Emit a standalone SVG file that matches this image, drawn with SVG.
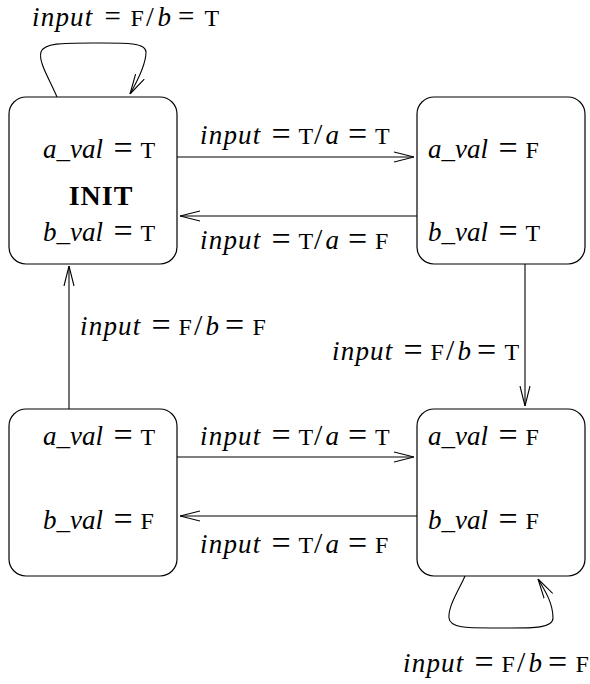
<svg xmlns="http://www.w3.org/2000/svg" width="590" height="684" viewBox="0 0 590 684">
  <style>
    .state { fill: #ffffff; stroke: #000000; stroke-width: 1.2; }
    .edge { fill: none; stroke: #000000; stroke-width: 1.1; }
    text { font-family: "Liberation Serif", "DejaVu Serif", serif; font-size: 24px; fill: #000000; }
    .v { font-style: italic; font-size: 27px; }
    .w { letter-spacing: 1.2px; }
    .eq { font-size: 34px; }
    .sl { font-size: 30px; }
    .eqs { font-size: 29px; }
    .sls { font-size: 28px; }
    .c { font-size: 24px; }
    .b { font-weight: bold; font-size: 28px; letter-spacing: 1px; }
  </style>
  <defs>
    <marker id="open" viewBox="0 0 20 12" refX="20" refY="6" markerWidth="20" markerHeight="12" markerUnits="userSpaceOnUse" orient="auto">
      <path d="M0,1 L20,6 L0,11" fill="none" stroke="#000000" stroke-width="1.1"/>
    </marker>
  </defs>

  <rect width="590" height="684" fill="#ffffff"/>

  <!-- transitions: lines, self-loops and their guards -->
  <g id="connectors">
    <path class="edge" d="M57,97 C50,80 38,62 41,52 C44,43 62,43 92,43 C122,43 146,42 146,52 C146,64 138,80 130,94" marker-end="url(#open)"/>
    <line class="edge" x1="177" y1="157" x2="414" y2="157" marker-end="url(#open)"/>
    <line class="edge" x1="417" y1="216" x2="180" y2="216" marker-end="url(#open)"/>
    <line class="edge" x1="525" y1="264" x2="525" y2="406" marker-end="url(#open)"/>
    <line class="edge" x1="69" y1="409" x2="69" y2="266" marker-end="url(#open)"/>
    <line class="edge" x1="177" y1="457" x2="414" y2="457" marker-end="url(#open)"/>
    <line class="edge" x1="417" y1="516" x2="180" y2="516" marker-end="url(#open)"/>
    <path class="edge" d="M465,576 C459,590 448,606 449,618 C450,629 470,628 500,628 C530,628 553,629 553,618 C553,604 546,592 538,579" marker-end="url(#open)"/>

    <text transform="translate(32,26)"><tspan class="v w" x="0" y="0">input</tspan><tspan class="eqs" x="72.5" y="0">=</tspan><tspan class="c" x="98.5" y="0">F</tspan><tspan class="sls" x="114">/</tspan><tspan class="v" x="125.5">b</tspan><tspan class="eqs" x="146" y="0">=</tspan><tspan class="c" x="172.5" y="0">T</tspan></text>
    <text transform="translate(200,144)"><tspan class="v w" x="0" y="0">input</tspan><tspan class="eq" x="71.5" y="1">=</tspan><tspan class="c" x="98.5" y="0">T</tspan><tspan class="sl" x="114">/</tspan><tspan class="v" x="125.5">a</tspan><tspan class="eq" x="148" y="1">=</tspan><tspan class="c" x="175" y="0">T</tspan></text>
    <text transform="translate(200,249)"><tspan class="v w" x="0" y="0">input</tspan><tspan class="eq" x="71.5" y="1">=</tspan><tspan class="c" x="98.5" y="0">T</tspan><tspan class="sl" x="114">/</tspan><tspan class="v" x="125.5">a</tspan><tspan class="eq" x="148" y="1">=</tspan><tspan class="c" x="175" y="0">F</tspan></text>
    <text transform="translate(332,360)"><tspan class="v w" x="0" y="0">input</tspan><tspan class="eq" x="71.5" y="1">=</tspan><tspan class="c" x="98.5" y="0">F</tspan><tspan class="sl" x="114">/</tspan><tspan class="v" x="125.5">b</tspan><tspan class="eq" x="145" y="1">=</tspan><tspan class="c" x="172.5" y="0">T</tspan></text>
    <text transform="translate(80,335)"><tspan class="v w" x="0" y="0">input</tspan><tspan class="eq" x="71.5" y="1">=</tspan><tspan class="c" x="98.5" y="0">F</tspan><tspan class="sl" x="114">/</tspan><tspan class="v" x="125.5">b</tspan><tspan class="eq" x="145" y="1">=</tspan><tspan class="c" x="172.5" y="0">F</tspan></text>
    <text transform="translate(200,445)"><tspan class="v w" x="0" y="0">input</tspan><tspan class="eq" x="71.5" y="1">=</tspan><tspan class="c" x="98.5" y="0">T</tspan><tspan class="sl" x="114">/</tspan><tspan class="v" x="125.5">a</tspan><tspan class="eq" x="148" y="1">=</tspan><tspan class="c" x="175" y="0">T</tspan></text>
    <text transform="translate(200,553)"><tspan class="v w" x="0" y="0">input</tspan><tspan class="eq" x="71.5" y="1">=</tspan><tspan class="c" x="98.5" y="0">T</tspan><tspan class="sl" x="114">/</tspan><tspan class="v" x="125.5">a</tspan><tspan class="eq" x="148" y="1">=</tspan><tspan class="c" x="175" y="0">F</tspan></text>
    <text transform="translate(403,672)"><tspan class="v w" x="0" y="0">input</tspan><tspan class="eq" x="71.5" y="1">=</tspan><tspan class="c" x="98.5" y="0">F</tspan><tspan class="sl" x="114">/</tspan><tspan class="v" x="125.5">b</tspan><tspan class="eq" x="145" y="1">=</tspan><tspan class="c" x="172.5" y="0">F</tspan></text>
  </g>

  <!-- states -->
  <g id="init">
    <rect class="state" x="9" y="97" width="168" height="167" rx="17"/>
    <text transform="translate(43,158)"><tspan class="v" x="0" y="0">a_val</tspan><tspan class="eq" x="70.5" y="1">=</tspan><tspan class="c" x="97.5" y="0">T</tspan></text>
    <text x="101" y="205" text-anchor="middle" class="b">INIT</text>
    <text transform="translate(43,241)"><tspan class="v" x="0" y="0">b_val</tspan><tspan class="eq" x="70.5" y="1">=</tspan><tspan class="c" x="97.5" y="0">T</tspan></text>
  </g>
  <g id="state-ft">
    <rect class="state" x="417" y="97" width="168" height="167" rx="17"/>
    <text transform="translate(428,158)"><tspan class="v" x="0" y="0">a_val</tspan><tspan class="eq" x="70.5" y="1">=</tspan><tspan class="c" x="97.5" y="0">F</tspan></text>
    <text transform="translate(428,241)"><tspan class="v" x="0" y="0">b_val</tspan><tspan class="eq" x="70.5" y="1">=</tspan><tspan class="c" x="97.5" y="0">T</tspan></text>
  </g>
  <g id="state-tf">
    <rect class="state" x="9" y="409" width="168" height="167" rx="17"/>
    <text transform="translate(43,445)"><tspan class="v" x="0" y="0">a_val</tspan><tspan class="eq" x="70.5" y="1">=</tspan><tspan class="c" x="97.5" y="0">T</tspan></text>
    <text transform="translate(43,529)"><tspan class="v" x="0" y="0">b_val</tspan><tspan class="eq" x="70.5" y="1">=</tspan><tspan class="c" x="97.5" y="0">F</tspan></text>
  </g>
  <g id="state-ff">
    <rect class="state" x="417" y="409" width="168" height="167" rx="17"/>
    <text transform="translate(428,445)"><tspan class="v" x="0" y="0">a_val</tspan><tspan class="eq" x="70.5" y="1">=</tspan><tspan class="c" x="97.5" y="0">F</tspan></text>
    <text transform="translate(428,529)"><tspan class="v" x="0" y="0">b_val</tspan><tspan class="eq" x="70.5" y="1">=</tspan><tspan class="c" x="97.5" y="0">F</tspan></text>
  </g>
</svg>
